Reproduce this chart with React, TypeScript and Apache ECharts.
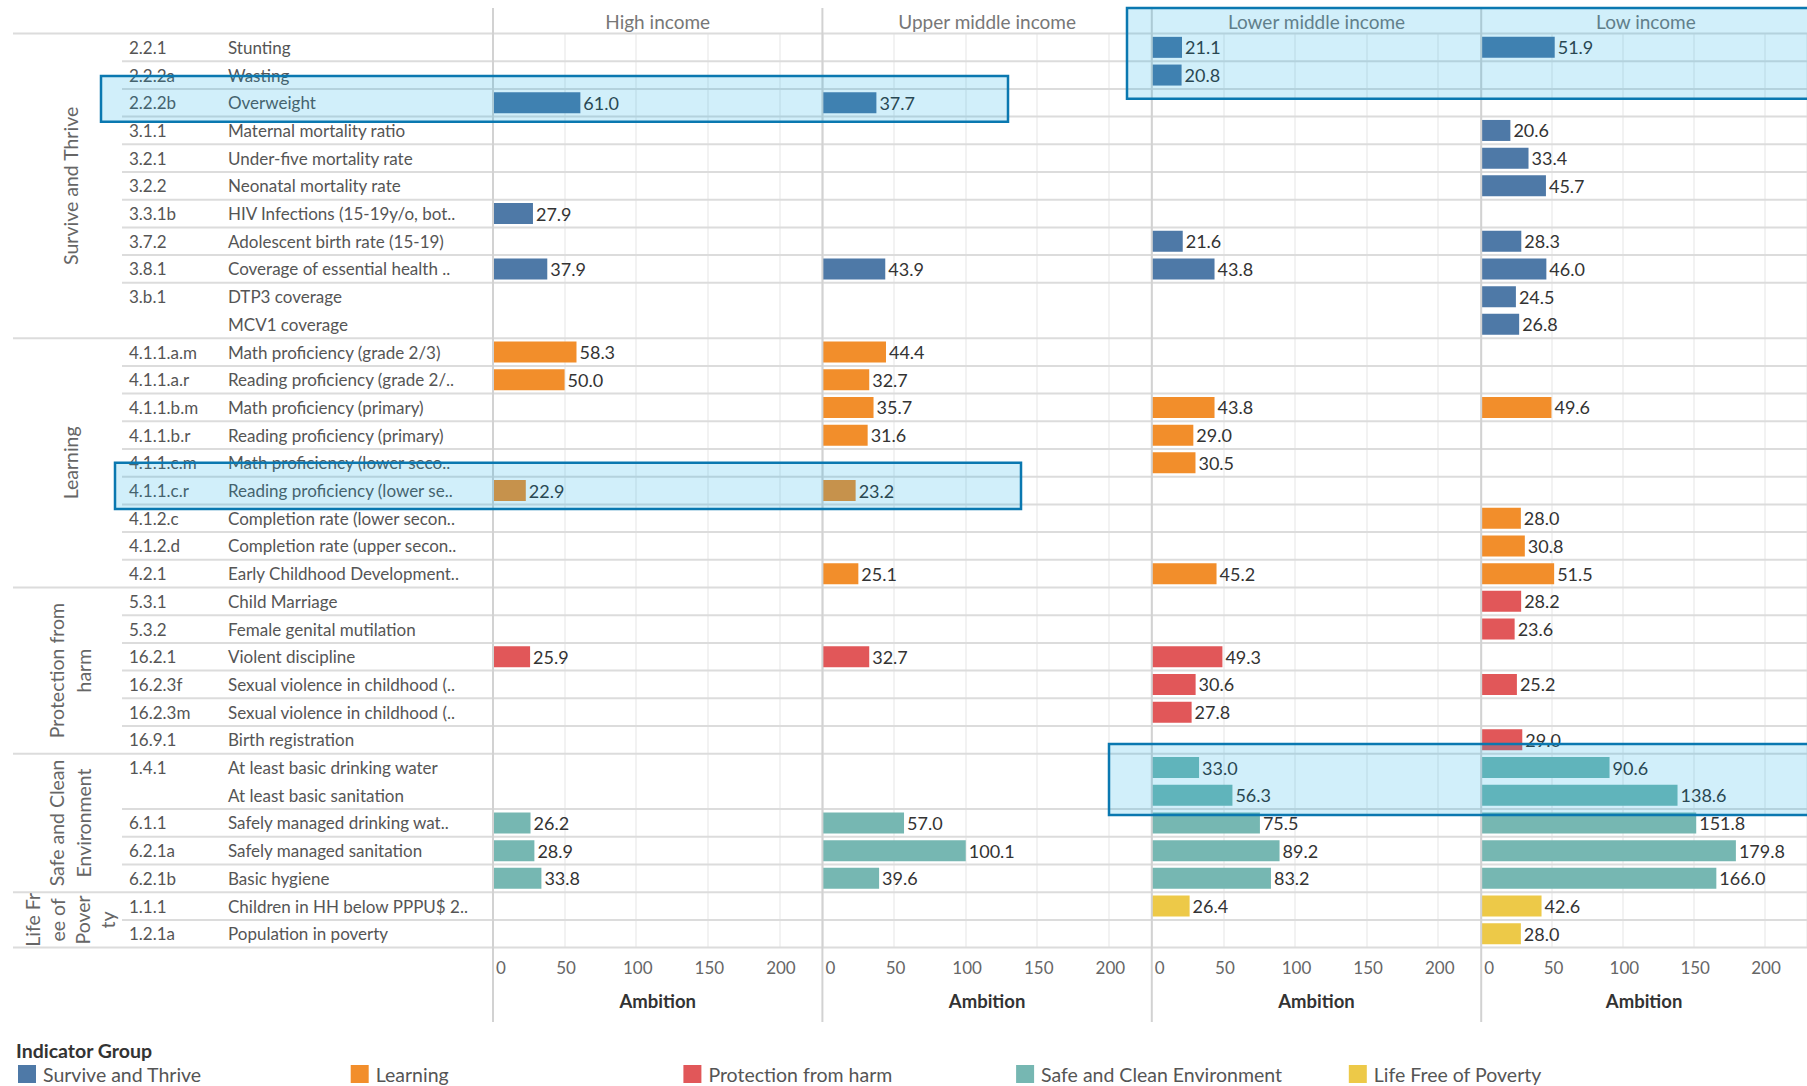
import React, { useEffect, useRef } from "react";
import * as echarts from "echarts";

// ---------- data ----------
const incomeGroups = ["High income", "Upper middle income", "Lower middle income", "Low income"];
const indicatorGroups = ["Survive and Thrive", "Learning", "Protection from harm", "Safe and Clean Environment", "Life Free of Poverty"];
const groupLabelLines = ["Survive and Thrive", "Learning", "Protection from\nharm", "Safe and Clean\nEnvironment", "Life Fr\nee of\nPover\nty"];
const groupColors = ["#4e79a7", "#f28e2b", "#e15759", "#76b7b2", "#edc948"];

const codes = [
  "2.2.1", "2.2.2a", "2.2.2b", "3.1.1", "3.2.1", "3.2.2", "3.3.1b", "3.7.2", "3.8.1", "3.b.1", "",
  "4.1.1.a.m", "4.1.1.a.r", "4.1.1.b.m", "4.1.1.b.r", "4.1.1.c.m", "4.1.1.c.r", "4.1.2.c", "4.1.2.d", "4.2.1",
  "5.3.1", "5.3.2", "16.2.1", "16.2.3f", "16.2.3m", "16.9.1",
  "1.4.1", "", "6.1.1", "6.2.1a", "6.2.1b",
  "1.1.1", "1.2.1a",
];
const names = [
  "Stunting", "Wasting", "Overweight", "Maternal mortality ratio", "Under-five mortality rate", "Neonatal mortality rate",
  "HIV Infections (15-19y/o, bot..", "Adolescent birth rate (15-19)", "Coverage of essential health ..", "DTP3 coverage", "MCV1 coverage",
  "Math proficiency (grade 2/3)", "Reading proficiency (grade 2/..", "Math proficiency (primary)", "Reading proficiency (primary)",
  "Math proficiency (lower seco..", "Reading proficiency (lower se..", "Completion rate (lower secon..", "Completion rate (upper secon..",
  "Early Childhood Development..",
  "Child Marriage", "Female genital mutilation", "Violent discipline", "Sexual violence in childhood (..", "Sexual violence in childhood (..", "Birth registration",
  "At least basic drinking water", "At least basic sanitation", "Safely managed drinking wat..", "Safely managed sanitation", "Basic hygiene",
  "Children in HH below PPPU$ 2..", "Population in poverty",
];
const rowGroup = [
  0, 0, 0, 0, 0, 0, 0, 0, 0, 0, 0,
  1, 1, 1, 1, 1, 1, 1, 1, 1,
  2, 2, 2, 2, 2, 2,
  3, 3, 3, 3, 3,
  4, 4,
];
const _ = null;
const highIncome = [_, _, 61.0, _, _, _, 27.9, _, 37.9, _, _, 58.3, 50.0, _, _, _, 22.9, _, _, _, _, _, 25.9, _, _, _, _, _, 26.2, 28.9, 33.8, _, _];
const upperMiddle = [_, _, 37.7, _, _, _, _, _, 43.9, _, _, 44.4, 32.7, 35.7, 31.6, _, 23.2, _, _, 25.1, _, _, 32.7, _, _, _, _, _, 57.0, 100.1, 39.6, _, _];
const lowerMiddle = [21.1, 20.8, _, _, _, _, _, 21.6, 43.8, _, _, _, _, 43.8, 29.0, 30.5, _, _, _, 45.2, _, _, 49.3, 30.6, 27.8, _, 33.0, 56.3, 75.5, 89.2, 83.2, 26.4, _];
const lowIncome = [51.9, _, _, 20.6, 33.4, 45.7, _, 28.3, 46.0, 24.5, 26.8, _, _, 49.6, _, _, _, 28.0, 30.8, 51.5, 28.2, 23.6, _, 25.2, _, 29.0, 90.6, 138.6, 151.8, 179.8, 166.0, 42.6, 28.0];
const panelValues = [highIncome, upperMiddle, lowerMiddle, lowIncome];
const axisTicks = [0, 50, 100, 150, 200];
const axisTitle = "Ambition";
const legendTitle = "Indicator Group";

// ---------- layout / style ----------
const FONT = "Lato, 'Noto Sans', sans-serif";
const W = 1807, H = 1086;
const TOP = 33.5, ROW_H = 27.7;
const N = codes.length;
const PANEL_LEFT = 493, PANEL_W = 329.4;
const AXIS_MAX = 230;
const LINE_COLOR = "#dcdcdc";
const LEGEND_LEFT = 18, LEGEND_STEP = 332.7;

// highlight annotation boxes (x in px, y in row units)
const boxes = [
  { x1: 101, x2: 1008, r1: 1.53, r2: 3.19 },
  { x1: 1127, x2: 1815, r1: -0.92, r2: 2.36 },
  { x1: 115, x2: 1021, r1: 15.5, r2: 17.17 },
  { x1: 1109, x2: 1815, r1: 25.65, r2: 28.21 },
];

export default function App() {
  const ref = useRef<HTMLDivElement>(null);
  useEffect(() => {
    const chart = echarts.init(ref.current!, null, { renderer: "svg" });
    const rows = codes.map((_c, i) => String(i));
    const grids: any[] = [];
    const xAxes: any[] = [];
    const yAxes: any[] = [];
    const series: any[] = [];

    incomeGroups.forEach((_inc, p) => {
      grids.push({ left: PANEL_LEFT + p * PANEL_W, top: TOP, width: PANEL_W, height: ROW_H * N });
      xAxes.push({
        type: "value", gridIndex: p, min: 0, max: AXIS_MAX, interval: 50,
        name: axisTitle, nameLocation: "middle", nameGap: 44,
        nameTextStyle: { fontFamily: FONT, fontSize: 18.5, fontWeight: "bold", color: "#333" },
        axisLine: { show: false }, axisTick: { show: false },
        axisLabel: {
          margin: 11, fontFamily: FONT, fontSize: 17, color: "#666", showMaxLabel: false,
          formatter: (v: number) => (axisTicks.includes(v) ? String(v) : ""),
          alignMinLabel: "left", padding: [0, 0, 0, 3],
        },
        splitLine: { show: true, lineStyle: { color: "#eeeeee", width: 1.5 } },
      });
      yAxes.push({ type: "category", gridIndex: p, data: rows, inverse: true, show: false });
      indicatorGroups.forEach((g, gi) => {
        series.push({
          type: "bar", name: g, xAxisIndex: p, yAxisIndex: p, stack: "panel" + p,
          barWidth: 21, itemStyle: { color: groupColors[gi] }, z: 3,
          label: {
            show: true, position: "right", distance: 3, fontFamily: FONT, fontSize: 18, color: "#333",
            formatter: (d: any) => (d.value == null ? "" : Number(d.value).toFixed(1)),
          },
          data: panelValues[p].map((v, i) => (rowGroup[i] === gi ? v : null)),
        });
      });
    });

    // background grid: row headers and row separator lines
    grids.push({ left: 0, top: TOP, width: W, height: ROW_H * N });
    xAxes.push({ type: "value", gridIndex: 4, min: 0, max: W, show: false });
    yAxes.push({
      type: "category", gridIndex: 4, data: rows, inverse: true,
      axisLine: { show: false }, axisTick: { show: false }, splitLine: { show: false },
      axisLabel: {
        inside: true, margin: 129, interval: 0, align: "left",
        formatter: (_v: string, i: number) => `{c|${codes[i] || "\u00a0"}}{n|${names[i]}}`,
        rich: {
          c: { width: 99, fontFamily: FONT, fontSize: 17, color: "#555" },
          n: { fontFamily: FONT, fontSize: 17, color: "#555" },
        },
      },
    });
    const boundaries: number[][] = [];
    for (let b = 0; b <= N; b++) {
      const isGroup = b === 0 || b === N || rowGroup[b] !== rowGroup[b - 1];
      if (isGroup) boundaries.push([0, 0, b, 0]);
      else if (codes[b] !== "") boundaries.push([0, 0, b, 1]);
    }
    series.push({
      type: "custom", xAxisIndex: 4, yAxisIndex: 4, z: 1, silent: true,
      encode: { x: 0, y: 1 },
      data: boundaries,
      renderItem: (_params: any, api: any) => {
        const b = api.value(2);
        const kind = api.value(3);
        const c0 = api.coord([0, 0]);
        const h = api.size([0, 1])[1];
        const y = c0[1] - h / 2 + b * h;
        const xs = api.coord([kind === 0 ? 13 : 122, 0])[0];
        const xe = api.coord([W, 0])[0];
        return { type: "line", shape: { x1: xs, y1: y, x2: xe, y2: y }, style: { stroke: LINE_COLOR, lineWidth: 2 } };
      },
    });

    const graphics: any[] = [];
    // panel separators and headers
    incomeGroups.forEach((inc, p) => {
      const x = PANEL_LEFT + p * PANEL_W;
      graphics.push({ type: "line", z: 5, shape: { x1: x, y1: 8, x2: x, y2: 1022 }, style: { stroke: "#d2d2d2", lineWidth: 2 } });
      graphics.push({
        type: "text", z: 5, x: x + PANEL_W / 2, y: 21,
        style: { text: inc, fontFamily: FONT, fontSize: 19, fill: "#777", align: "center", verticalAlign: "middle" },
      });
    });
    // group labels (rotated)
    indicatorGroups.forEach((_g, gi) => {
      const first = rowGroup.indexOf(gi);
      const count = rowGroup.filter((r) => r === gi).length;
      const yc = TOP + (first + count / 2) * ROW_H;
      graphics.push({
        type: "text", z: 5, x: 70, y: yc, rotation: Math.PI / 2,
        style: {
          text: groupLabelLines[gi], fontFamily: FONT, fontSize: 19.5, fill: "#666",
          align: "center", verticalAlign: "middle", lineHeight: gi === 4 ? 25 : 27,
        },
      });
    });
    // legend title
    graphics.push({
      type: "text", z: 5, x: 16, y: 1050,
      style: { text: legendTitle, fontFamily: FONT, fontSize: 19.5, fontWeight: "bold", fill: "#333", align: "left", verticalAlign: "middle" },
    });
    // highlight boxes on top
    boxes.forEach((bx) => {
      const y1 = TOP + bx.r1 * ROW_H;
      const y2 = TOP + bx.r2 * ROW_H;
      graphics.push({
        type: "rect", z: 100, silent: true,
        shape: { x: bx.x1, y: y1, width: bx.x2 - bx.x1, height: y2 - y1 },
        style: { fill: "rgba(0,165,225,0.18)", stroke: "#0a78b0", lineWidth: 2.5 },
      });
    });

    const legends = indicatorGroups.map((g, gi) => ({
      left: LEGEND_LEFT + gi * LEGEND_STEP, top: 1064, padding: 0, orient: "horizontal",
      itemWidth: 18, itemHeight: 18, icon: "rect", selectedMode: false,
      textStyle: { fontFamily: FONT, fontSize: 19.5, color: "#555", padding: [0, 0, 0, 2] },
      data: [g],
    }));

    chart.setOption({
      animation: false,
      backgroundColor: "#fff",
      grid: grids,
      xAxis: xAxes,
      yAxis: yAxes,
      series,
      legend: legends,
      graphic: graphics,
    });
    return () => chart.dispose();
  }, []);
  return <div ref={ref} style={{ position: "absolute", left: 0, top: 0, width: W, height: H }} />;
}
